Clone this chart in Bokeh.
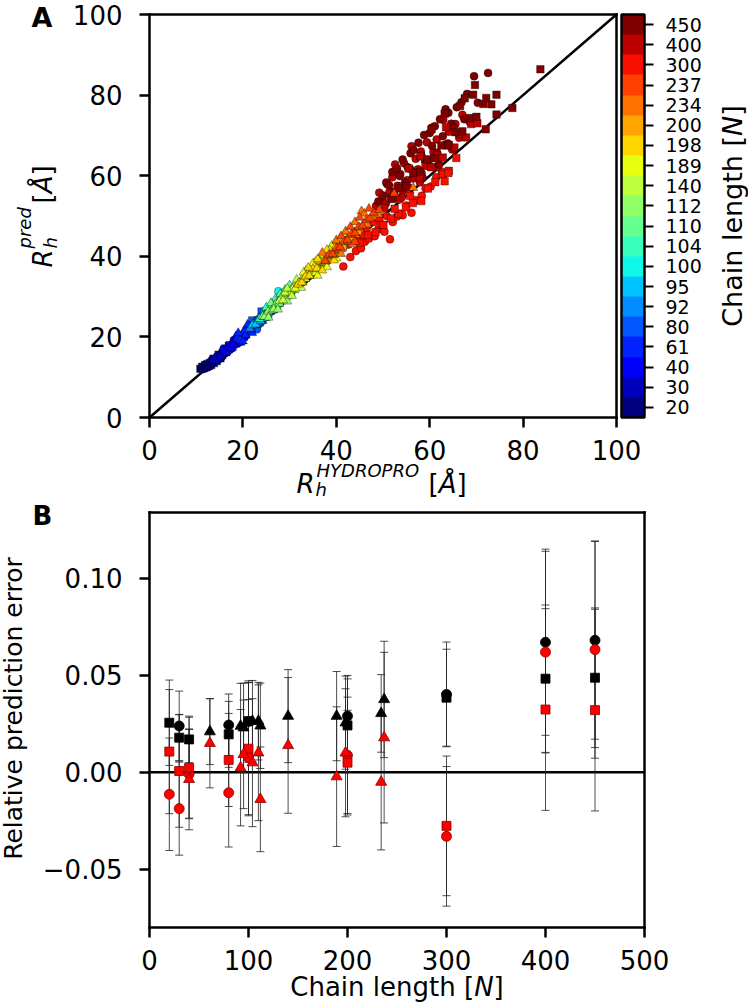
import numpy as np
from bokeh.plotting import figure
from bokeh.models import (Range1d, FixedTicker, ColorBar, LinearAxis, Label,
                          LinearColorMapper, ColumnDataSource)
from bokeh.layouts import column
from bokeh.embed import file_html
from bokeh.resources import INLINE

FONT = "DejaVu Sans"

# ---------------- colour bar categories ----------------
chain_lengths = [20, 30, 40, 61, 80, 92, 95, 100, 104, 110, 112, 140,
                 189, 198, 200, 234, 237, 300, 400, 450]

# ---------------- panel A data (x = R_h HYDROPRO, y = R_h pred) ----------------
A_lim = (0, 100)
A_ticks = [0, 20, 40, 60, 80, 100]

A20_sq = [(10.9, 12.1), (11.3, 12.6), (11.6, 12.2), (11.9, 13.0), (12.2, 12.5), (12.4, 13.3),
          (12.7, 12.8), (13.0, 13.6), (13.2, 13.0), (13.5, 14.1), (13.8, 13.5), (14.1, 14.4),
          (14.4, 14.0), (14.8, 15.0), (15.2, 14.7), (15.6, 15.5)]
A20_ci = [(11.4, 12.0), (12.0, 12.3), (12.6, 12.6), (13.2, 13.4), (13.8, 13.8), (14.3, 14.2),
          (14.9, 14.5), (15.4, 15.1)]
A30_ci = [(13.4, 14.2), (13.9, 14.0), (14.5, 15.2), (15.0, 14.9), (15.6, 16.3), (16.1, 15.9),
          (16.7, 17.2), (17.2, 16.8), (17.8, 18.3), (15.3, 15.6)]
A30_sq = [(13.7, 14.6), (14.2, 14.4), (14.8, 15.6), (15.3, 15.3), (15.9, 16.7), (16.4, 16.2),
          (17.0, 17.8), (17.5, 17.3), (18.1, 18.6), (16.2, 17.1)]
A40_sq = [(16.0, 16.8), (16.6, 16.5), (17.2, 17.9), (17.8, 17.6), (18.4, 19.2), (19.0, 18.8),
          (19.6, 20.4), (20.2, 20.0), (20.8, 21.5), (18.1, 18.9)]
A40_ci = [(16.3, 16.4), (17.1, 17.0), (18.0, 18.4), (18.8, 18.3), (19.7, 20.0), (20.5, 20.2)]
A40_tr = [(16.6, 16.9), (17.4, 17.2), (18.2, 18.6), (19.0, 18.6), (19.8, 20.2), (20.6, 20.4),
          (21.4, 21.9), (17.9, 18.1), (18.5, 20.2), (19.5, 18.6)]
A61_tr = [(18.8, 19.6), (19.4, 19.2), (20.0, 20.9), (20.6, 20.5), (21.2, 22.1), (21.8, 21.6),
          (22.4, 23.4), (23.0, 22.9), (23.6, 24.6), (24.2, 24.0), (24.8, 25.7), (21.5, 22.6),
          (22.9, 24.0), (20.3, 21.6), (19.0, 21.0), (21.0, 23.1), (20.0, 18.9), (22.0, 21.0)]
A80_ci = [(20.6, 20.4), (21.4, 21.6), (22.2, 22.0), (23.0, 23.3), (23.8, 23.5), (24.6, 24.9),
          (25.4, 25.0), (26.2, 26.4), (22.6, 23.1), (24.2, 24.3), (23.0, 21.9)]
A80_sq = [(21.0, 21.5), (21.8, 22.1), (22.6, 23.2), (23.4, 23.6), (24.2, 24.9), (25.0, 25.2),
          (25.8, 26.6), (26.6, 26.9), (23.1, 24.1), (24.8, 25.9), (22.0, 24.1), (24.0, 26.3)]
A92_tr = [(21.5, 22.1), (22.2, 23.2), (22.9, 23.3), (23.6, 24.6), (24.3, 24.7), (25.0, 26.1),
          (25.7, 26.2), (26.4, 27.6), (27.1, 27.6), (23.3, 24.5), (24.9, 25.3), (26.0, 27.7)]
A95_tr = [(22.0, 22.9), (22.7, 23.1), (23.4, 24.5), (24.1, 24.6), (24.8, 26.0), (25.5, 26.1),
          (26.2, 27.4), (26.9, 27.5), (27.6, 28.9), (24.4, 25.7), (25.9, 26.8), (23.8, 24.0)]
A100_sq = [(23.0, 23.9), (23.8, 24.3), (24.6, 25.7), (25.4, 26.0), (26.2, 27.4), (27.0, 27.7),
           (27.8, 29.0), (28.6, 29.5), (25.0, 26.5), (26.8, 28.5)]
A100_ci = [(23.4, 23.7), (24.3, 24.6), (25.2, 25.4), (26.1, 26.6), (27.0, 27.2), (27.6, 31.3),
           (27.9, 28.3), (28.8, 29.1)]
A104_tr = [(23.6, 24.5), (24.4, 25.0), (25.2, 26.3), (26.0, 26.7), (26.8, 28.1), (27.6, 28.4),
           (28.4, 29.8), (29.2, 30.1), (30.0, 31.4), (25.6, 27.2), (27.2, 27.5), (28.8, 30.6),
           (25.0, 27.3), (27.0, 29.5), (29.0, 31.7)]
A110_tr = [(24.2, 25.1), (25.0, 25.6), (25.8, 26.9), (26.6, 27.3), (27.4, 28.7), (28.2, 29.0),
           (29.0, 30.4), (29.8, 30.7), (30.6, 32.0), (26.2, 27.9), (27.8, 28.3), (29.4, 31.3),
           (26.0, 28.4), (28.0, 30.6), (30.0, 32.8)]
A112_tr = [(24.6, 25.0), (25.4, 26.3), (26.2, 26.6), (27.0, 28.1), (27.8, 28.3), (28.6, 29.9),
           (29.4, 30.0), (30.2, 31.5), (31.0, 31.6), (26.6, 26.9), (28.2, 29.8), (31.8, 32.9),
           (25.5, 24.8), (27.5, 26.8), (29.5, 28.8)]
A140_tr = [(27.8, 28.9), (28.6, 29.1), (29.4, 30.7), (30.2, 30.9), (31.0, 32.5), (31.8, 32.6),
           (32.6, 34.2), (33.4, 34.4), (34.2, 35.9), (35.0, 36.0), (35.8, 37.6), (30.6, 31.9),
           (32.2, 33.4), (33.8, 35.4), (29.0, 31.0), (36.6, 38.5), (29.5, 32.0), (31.5, 34.2),
           (33.5, 36.4), (35.5, 38.6), (30.5, 30.2), (32.5, 32.2)]
A189_tr = [(31.2, 32.0), (32.0, 33.4), (32.8, 33.5), (33.6, 35.2), (34.4, 35.2), (35.2, 36.9),
           (36.0, 36.9), (36.8, 38.6), (37.6, 38.5), (38.4, 40.3), (39.2, 40.1), (40.0, 42.0),
           (40.8, 41.7), (41.6, 43.5), (34.8, 37.4), (37.2, 39.8), (39.6, 42.5), (35.6, 35.9),
           (33.0, 36.0), (35.0, 38.2), (37.0, 40.4), (39.0, 42.6), (36.0, 35.2), (38.0, 37.3),
           (40.0, 39.5)]
A198_tr = [(31.8, 33.0), (32.6, 33.5), (33.4, 35.0), (34.2, 35.2), (35.0, 36.9), (35.8, 37.0),
           (36.6, 38.7), (37.4, 38.8), (38.2, 40.5), (39.0, 40.6), (39.8, 42.3), (40.6, 42.4),
           (41.4, 44.0), (42.2, 44.1), (36.2, 39.0), (38.6, 41.6), (34.0, 37.2), (36.0, 39.3),
           (38.0, 41.6), (40.0, 43.8), (42.0, 46.0), (37.0, 36.5), (39.5, 39.0)]
A200_ci = [(35.0, 36.6), (35.8, 38.5), (36.6, 37.7), (37.4, 39.5), (38.2, 39.1), (39.0, 41.0),
           (39.8, 40.6), (40.6, 42.5), (41.4, 42.1), (42.2, 44.0), (43.0, 43.9), (44.2, 45.8)]
A200_sq = [(35.4, 36.3), (36.4, 37.7), (37.4, 38.2), (38.4, 39.8), (39.4, 40.2), (40.4, 41.9),
           (41.4, 42.3), (42.4, 44.0), (43.4, 44.5), (44.6, 46.3)]
A234_tr = [(37.0, 40.9), (37.8, 38.8), (38.6, 40.4), (39.4, 40.3), (40.2, 42.0), (41.0, 41.9),
           (41.8, 43.7), (42.6, 43.6), (43.4, 45.4), (44.2, 45.3), (45.0, 47.1), (45.4, 51.2),
           (46.6, 47.9), (47.8, 49.8), (49.0, 50.4), (56.5, 57.0), (40.0, 44.0), (42.0, 46.2),
           (44.0, 48.5), (46.0, 50.6), (41.0, 40.6), (43.5, 43.0)]
A237_tr = [(37.6, 38.9), (38.4, 40.3), (39.2, 40.6), (40.0, 42.0), (40.8, 42.3), (41.6, 43.7),
           (42.4, 44.1), (43.2, 45.5), (44.0, 45.8), (44.8, 47.3), (45.6, 47.6), (46.4, 49.0),
           (47.2, 49.4), (48.0, 50.8), (49.2, 51.5), (52.4, 55.6), (41.0, 45.0), (43.0, 47.3),
           (45.0, 49.6), (47.0, 51.8), (44.0, 43.6)]
A300_ci = [(41.5, 37.5), (43.0, 39.8), (44.2, 41.3), (45.3, 42.0), (46.1, 43.6), (47.0, 44.4),
           (48.2, 45.0), (49.0, 46.7), (50.3, 46.1), (51.5, 44.2), (52.1, 48.5), (53.0, 49.9),
           (54.2, 50.2), (55.0, 52.6), (56.1, 50.8), (57.0, 53.9), (58.3, 55.0), (59.1, 56.9),
           (60.2, 57.3), (61.4, 59.6), (48.0, 48.5), (50.8, 50.0), (53.6, 54.1), (46.5, 46.9),
           (44.8, 44.0), (62.6, 61.0), (42.6, 42.9), (45.8, 45.2), (49.6, 48.0)]
A300_sq = [(45.0, 43.4), (46.8, 45.3), (48.4, 46.0), (50.1, 47.8), (51.7, 49.4), (53.3, 50.6),
           (54.9, 52.1), (56.4, 53.2), (58.2, 53.7), (59.6, 56.8), (61.2, 58.4), (62.8, 60.3),
           (64.1, 61.2), (65.7, 64.4), (52.5, 51.8), (55.8, 55.0), (49.2, 49.6), (64.0, 60.7),
           (63.2, 58.6)]
A400_ci = [(48.5, 52.5), (49.2, 55.8), (49.8, 54.0), (50.6, 53.1), (50.9, 57.9), (51.4, 56.0),
           (52.0, 59.6), (52.2, 54.8), (52.6, 62.8), (53.1, 57.5), (53.7, 60.4), (54.3, 56.2),
           (54.5, 63.1), (55.2, 58.9), (55.8, 61.7), (56.1, 67.3), (56.4, 59.3), (57.0, 64.2),
           (57.5, 61.6), (58.1, 66.0), (58.3, 60.5), (59.0, 63.7), (59.4, 68.3), (60.0, 62.4),
           (60.4, 71.9), (60.8, 65.9), (61.5, 69.0), (62.0, 64.2), (62.9, 73.9), (63.4, 67.7),
           (64.1, 70.9), (64.8, 66.5), (65.5, 72.8), (66.3, 69.4), (67.0, 75.1), (68.6, 73.9),
           (54.0, 54.6), (57.9, 58.4), (61.7, 62.3)]
A400_sq = [(50.3, 52.0), (51.6, 54.4), (52.8, 54.6), (54.1, 57.3), (55.3, 57.0), (56.6, 59.9),
           (57.8, 59.6), (59.1, 62.4), (60.3, 62.1), (61.6, 65.0), (62.8, 64.5), (64.1, 67.6),
           (65.3, 67.0), (66.6, 70.3), (67.8, 69.5), (58.0, 64.8), (63.5, 72.0), (55.5, 61.8),
           (68.9, 72.8), (70.2, 73.0)]
A450_ci = [(49.0, 53.6), (50.0, 55.1), (50.7, 58.3), (51.3, 57.6), (52.0, 60.9), (52.4, 56.0),
           (53.0, 61.8), (53.6, 59.9), (54.2, 64.0), (54.7, 58.3), (55.3, 62.1), (55.9, 65.6),
           (56.5, 66.4), (57.0, 60.9), (57.6, 68.2), (58.2, 65.1), (58.8, 70.1), (59.3, 63.4),
           (60.0, 70.6), (60.5, 67.4), (61.1, 72.3), (61.6, 65.7), (62.2, 74.0), (62.8, 69.8),
           (63.4, 76.5), (63.9, 68.0), (64.0, 75.6), (64.6, 72.9), (65.1, 72.1), (65.8, 77.0),
           (66.2, 70.5), (66.8, 78.2), (67.4, 74.0), (68.0, 80.3), (68.6, 73.3), (69.5, 84.7),
           (70.3, 78.1), (72.5, 85.5), (62.0, 62.8), (58.5, 59.4)]
A450_sq = [(52.0, 54.2), (53.5, 56.9), (55.0, 57.4), (56.5, 60.6), (58.0, 61.0), (59.5, 64.1),
           (61.0, 64.3), (62.5, 67.5), (64.0, 67.5), (65.5, 70.8), (67.0, 71.0), (68.5, 74.3),
           (70.0, 74.6), (71.5, 77.8), (83.7, 86.4), (77.7, 76.8), (69.7, 82.5), (69.3, 80.1),
           (67.5, 79.2), (74.3, 80.1), (66.5, 77.3), (72.1, 79.3), (73.2, 77.7), (74.3, 75.2),
           (72.0, 71.5), (63.2, 75.4), (60.4, 71.5)]

A_circles = [(20, A20_ci), (30, A30_ci), (40, A40_ci), (80, A80_ci), (100, A100_ci),
             (200, A200_ci), (300, A300_ci), (400, A400_ci), (450, A450_ci)]
A_squares = [(20, A20_sq), (30, A30_sq), (40, A40_sq), (80, A80_sq), (100, A100_sq),
             (200, A200_sq), (300, A300_sq), (400, A400_sq), (450, A450_sq)]
A_triangles = [(40, A40_tr), (61, A61_tr), (92, A92_tr), (95, A95_tr), (104, A104_tr),
               (110, A110_tr), (112, A112_tr), (140, A140_tr), (189, A189_tr),
               (198, A198_tr), (234, A234_tr), (237, A237_tr)]

# ---------------- panel B data (relative prediction error) ----------------
B_xlim = (0, 500)
B_ylim = (-0.080, 0.134)
B_xticks = [0, 100, 200, 300, 400, 500]
B_yticks = [-0.05, 0.0, 0.05, 0.10]
B_ytick_labels = ["\u22120.05", "0.00", "0.05", "0.10"]

B_black_circle_N = [30, 80, 100, 200, 300, 400, 450]
B_black_circle_val = [0.0239, 0.0244, 0.0262, 0.0290, 0.0402, 0.0671, 0.0681]
B_black_circle_err = [0.018, 0.016, 0.021, 0.021, 0.027, 0.048, 0.051]

B_black_square_N = [20, 30, 40, 80, 100, 200, 300, 400, 450]
B_black_square_val = [0.0256, 0.0179, 0.0170, 0.0196, 0.0264, 0.0242, 0.0385, 0.0483, 0.0488]
B_black_square_err = [0.022, 0.012, 0.012, 0.017, 0.020, 0.024, 0.025, 0.038, 0.036]

B_black_tri_N = [61, 92, 95, 104, 110, 112, 140, 189, 198, 234, 237]
B_black_tri_val = [0.0210, 0.0239, 0.0230, 0.0264, 0.0264, 0.0240, 0.0290, 0.0290, 0.0256,
                   0.0304, 0.0376]
B_black_tri_err = [0.017, 0.022, 0.023, 0.021, 0.020, 0.022, 0.024, 0.023, 0.024, 0.020, 0.030]

B_red_circle_N = [20, 30, 40, 80, 100, 200, 300, 400, 450]
B_red_circle_val = [-0.0113, -0.0187, -0.0009, -0.0105, 0.0076, 0.0088, -0.0330, 0.0620, 0.0633]
B_red_circle_err = [0.029, 0.024, 0.023, 0.028, 0.030, 0.030, 0.036, 0.052, 0.056]

B_red_square_N = [20, 30, 40, 80, 100, 200, 300, 400, 450]
B_red_square_val = [0.0107, 0.0007, 0.0024, 0.0064, 0.0122, 0.0050, -0.0276, 0.0324, 0.0321]
B_red_square_err = [0.032, 0.029, 0.026, 0.024, 0.034, 0.027, 0.036, 0.052, 0.052]

B_red_tri_N = [40, 61, 92, 95, 104, 110, 112, 140, 189, 198, 234, 237]
B_red_tri_val = [-0.0036, 0.0150, 0.0024, 0.0093, 0.0050, 0.0101, -0.0139, 0.0139, -0.0022,
                 0.0101, -0.0050, 0.0179]
B_red_tri_err = [0.026, 0.023, 0.030, 0.028, 0.033, 0.035, 0.027, 0.035, 0.036, 0.033, 0.035, 0.044]


def jet(t):
    r = np.interp(t, [0, 0.35, 0.66, 0.89, 1], [0, 0, 1, 1, 0.5])
    g = np.interp(t, [0, 0.125, 0.375, 0.64, 0.91, 1], [0, 0, 1, 1, 0, 0])
    b = np.interp(t, [0, 0.11, 0.34, 0.65, 1], [0.5, 1, 1, 0, 0])
    return "#%02x%02x%02x" % (int(round(r * 255)), int(round(g * 255)), int(round(b * 255)))


palette = [jet(i / (len(chain_lengths) - 1)) for i in range(len(chain_lengths))]
color_of = {n: palette[i] for i, n in enumerate(chain_lengths)}

# DejaVu Sans advance widths (em)
ADV = {"R": 0.695, "h": 0.634, "p": 0.635, "r": 0.411, "e": 0.615, "d": 0.635,
       "H": 0.752, "Y": 0.611, "D": 0.770, "O": 0.787, "P": 0.603, "[": 0.390,
       "]": 0.390, "Å": 0.684, "N": 0.748, "C": 0.698, "a": 0.613, "i": 0.278,
       "n": 0.634, " ": 0.318, "l": 0.278, "g": 0.635, "t": 0.392}
MID = 0.346   # distance (em) from the alphabetic baseline up to the middle of the line box


def width(s, fs):
    return sum(ADV.get(c, 0.6) for c in s) * fs


# ---------------- page geometry (pixels) ----------------
FIG_LEFT = 1            # page x of the figures' left edge
FIG_W = 748
A_TOP, A_H = 1, 499     # panel A figure: page y 1..500
B_TOP, B_H = 500, 503   # panel B figure: page y 500..1003
A_FRAME = (150, 617, 15, 418)   # left, right, top, bottom (page px) of the axes box
B_FRAME = (150, 645, 513, 928)


def data_ranges(lim_x, lim_y, box, top, h):
    l, r, t, b = box
    sx = (r - l) / (lim_x[1] - lim_x[0])
    sy = (b - t) / (lim_y[1] - lim_y[0])
    x0 = lim_x[0] - (l - FIG_LEFT) / sx
    x1 = x0 + FIG_W / sx
    y1 = lim_y[1] + (t - top) / sy
    y0 = y1 - h / sy
    return Range1d(x0, x1), Range1d(y0, y1)


def make_fig(lim_x, lim_y, box, top, h, xticks, yticks):
    xr, yr = data_ranges(lim_x, lim_y, box, top, h)
    p = figure(output_backend="svg", toolbar_location=None, width=FIG_W, height=h,
               x_range=xr, y_range=yr, min_border=0, min_border_left=0,
               min_border_right=0, min_border_top=0, min_border_bottom=0)
    p.grid.visible = False
    p.outline_line_color = None
    p.background_fill_color = "white"
    p.border_fill_color = "white"
    p.xaxis.fixed_location = lim_y[0]
    p.xaxis.bounds = lim_x
    p.xaxis.ticker = FixedTicker(ticks=xticks)
    p.yaxis.fixed_location = lim_x[0]
    p.yaxis.bounds = lim_y
    p.yaxis.ticker = FixedTicker(ticks=yticks)
    p.add_layout(LinearAxis(fixed_location=lim_y[1], bounds=lim_x,
                            ticker=FixedTicker(ticks=[])), "above")
    p.add_layout(LinearAxis(fixed_location=lim_x[1], bounds=lim_y,
                            ticker=FixedTicker(ticks=[])), "right")
    for ax in p.axis:
        ax.axis_line_color = "black"
        ax.axis_line_width = 2.5
        ax.axis_line_cap = "square"
        ax.major_tick_line_color = "black"
        ax.major_tick_line_width = 2.5
        ax.major_tick_out = 10
        ax.major_tick_in = 0
        ax.minor_tick_line_color = None
        ax.major_label_text_font = FONT
        ax.major_label_text_font_size = "26px"
        ax.major_label_text_color = "black"
    p.xaxis.major_label_standoff = 12
    p.yaxis.major_label_standoff = 17
    return p


def put(p, fig_bottom, X, Y, text, size=26, style="normal", angle=0.0, align="left"):
    """Text whose alphabetic baseline starts at page (X, Y)."""
    if angle == 0.0:
        ax, ay = X, Y - MID * size
    else:   # rotated 90 degrees counter-clockwise: glyph 'up' points to -x
        ax, ay = X - MID * size, Y
    p.add_layout(Label(x=ax - FIG_LEFT, y=fig_bottom - ay, x_units="screen", y_units="screen",
                       text=text, text_font=FONT, text_font_size=f"{size}px",
                       text_font_style=style, text_color="black", angle=angle,
                       text_align=align, text_baseline="middle"))


# =============== Panel A ===============
pA = make_fig(A_lim, A_lim, A_FRAME, A_TOP, A_H, A_ticks, A_ticks)
A_bottom = A_TOP + A_H

pA.segment(x0=[A_lim[0]], y0=[A_lim[0]], x1=[A_lim[1]], y1=[A_lim[1]],
           line_color="black", line_width=2.5)


def group_source(groups):
    xs, ys, cs = [], [], []
    for n, pts in groups:
        for (x, y) in pts:
            xs.append(x)
            ys.append(y)
            cs.append(color_of[n])
    return ColumnDataSource(dict(x=xs, y=ys, c=cs))


for groups, marker, size in [(A_circles, "circle", 8), (A_squares, "square", 7.5),
                             (A_triangles, "triangle", 9)]:
    pA.scatter("x", "y", source=group_source(groups), marker=marker, size=size,
               fill_color="c", line_color="black", line_alpha=0.6, line_width=0.6)

mapper = LinearColorMapper(palette=palette, low=0, high=len(chain_lengths))
cb = ColorBar(color_mapper=mapper, orientation="vertical",
              location=(622 - FIG_LEFT, A_bottom - A_FRAME[3]),
              width=23, height=A_FRAME[3] - A_FRAME[2], padding=0, margin=0,
              ticker=FixedTicker(ticks=[i + 0.5 for i in range(len(chain_lengths))]),
              major_label_overrides={i + 0.5: str(n) for i, n in enumerate(chain_lengths)},
              major_label_text_font=FONT, major_label_text_font_size="19px",
              major_label_text_color="black",
              major_tick_line_color="black", major_tick_line_width=2,
              major_tick_in=0, major_tick_out=9, minor_tick_line_color=None,
              label_standoff=12, bar_line_color="black", bar_line_width=2.5,
              background_fill_alpha=0, border_line_color=None)
pA.add_layout(cb)

HALF_PI = np.pi / 2

# panel letter
put(pA, A_bottom, 32, 27, "A", 27, "bold")

# x label  R_h^{HYDROPRO} [Å]
XB = 493.5
put(pA, A_bottom, 297, XB, "R", 26, "italic")
put(pA, A_bottom, 316, XB + 3, "h", 18, "italic")
put(pA, A_bottom, 317, XB - 16, "HYDROPRO", 18, "italic")
put(pA, A_bottom, 429, XB, "[", 26)
put(pA, A_bottom, 429 + width("[", 26), XB, "Å", 26, "italic")
put(pA, A_bottom, 429 + width("[Å", 26), XB, "]", 26)

# y label  R_h^{pred} [Å]  (reading upward)
put(pA, A_bottom, 52, 268, "R", 26, "italic", HALF_PI)
put(pA, A_bottom, 57, 249, "h", 18, "italic", HALF_PI)
put(pA, A_bottom, 31, 249, "pred", 18, "italic", HALF_PI)
put(pA, A_bottom, 52, 204, "[", 26, "normal", HALF_PI)
put(pA, A_bottom, 52, 204 - width("[", 26), "Å", 26, "italic", HALF_PI)
put(pA, A_bottom, 52, 204 - width("[Å", 26), "]", 26, "normal", HALF_PI)

# colour-bar label  Chain length [N]
cfs = 27
cbx = 742
cy = (A_FRAME[2] + A_FRAME[3]) / 2 + width("Chain length [N]", cfs) / 2
put(pA, A_bottom, cbx, cy, "Chain length [", cfs, "normal", HALF_PI)
put(pA, A_bottom, cbx, cy - width("Chain length [", cfs), "N", cfs, "italic", HALF_PI)
put(pA, A_bottom, cbx, cy - width("Chain length [N", cfs), "]", cfs, "normal", HALF_PI)

# =============== Panel B ===============
pB = make_fig(B_xlim, B_ylim, B_FRAME, B_TOP, B_H, B_xticks, B_yticks)
B_bottom = B_TOP + B_H
pB.yaxis.major_label_overrides = {t: s for t, s in zip(B_yticks, B_ytick_labels)}

pB.segment(x0=[B_xlim[0]], y0=[0], x1=[B_xlim[1]], y1=[0], line_color="black", line_width=2.5)

series = [
    (B_black_circle_N, B_black_circle_val, B_black_circle_err, "circle", 10, "black", "black"),
    (B_black_square_N, B_black_square_val, B_black_square_err, "square", 9, "black", "black"),
    (B_black_tri_N, B_black_tri_val, B_black_tri_err, "triangle", 11, "black", "black"),
    (B_red_circle_N, B_red_circle_val, B_red_circle_err, "circle", 10, "#ff0000", "#8b0000"),
    (B_red_square_N, B_red_square_val, B_red_square_err, "square", 9, "#ff0000", "#8b0000"),
    (B_red_tri_N, B_red_tri_val, B_red_tri_err, "triangle", 11, "#ff0000", "#8b0000"),
]

for N, val, err, marker, size, fc, lc in series:
    lo = [v - e for v, e in zip(val, err)]
    hi = [v + e for v, e in zip(val, err)]
    src = ColumnDataSource(dict(x=N, y=val, lo=lo, hi=hi))
    pB.segment(x0="x", y0="lo", x1="x", y1="hi", source=src, line_color="#222222",
               line_width=1, line_alpha=0.8)
    pB.scatter("x", "lo", source=src, marker="dash", size=8, line_color="#222222",
               line_width=1, line_alpha=0.8)
    pB.scatter("x", "hi", source=src, marker="dash", size=8, line_color="#222222",
               line_width=1, line_alpha=0.8)

for N, val, err, marker, size, fc, lc in series:
    src = ColumnDataSource(dict(x=N, y=val))
    pB.scatter("x", "y", source=src, marker=marker, size=size, fill_color=fc,
               line_color=lc, line_width=0.8)

put(pB, B_bottom, 33, 525, "B", 26, "bold")
put(pB, B_bottom, 23, 709, "Relative prediction error", 25, "normal", HALF_PI, "center")

bfs = 26
bx = (B_FRAME[0] + B_FRAME[1]) / 2 - width("Chain length [N]", bfs) / 2
put(pB, B_bottom, bx, 996, "Chain length [", bfs)
put(pB, B_bottom, bx + width("Chain length [", bfs), 996, "N", bfs, "italic")
put(pB, B_bottom, bx + width("Chain length [N", bfs), 996, "]", bfs)

layout = column(pA, pB)
open("out.html", "w").write(file_html(layout, INLINE))
